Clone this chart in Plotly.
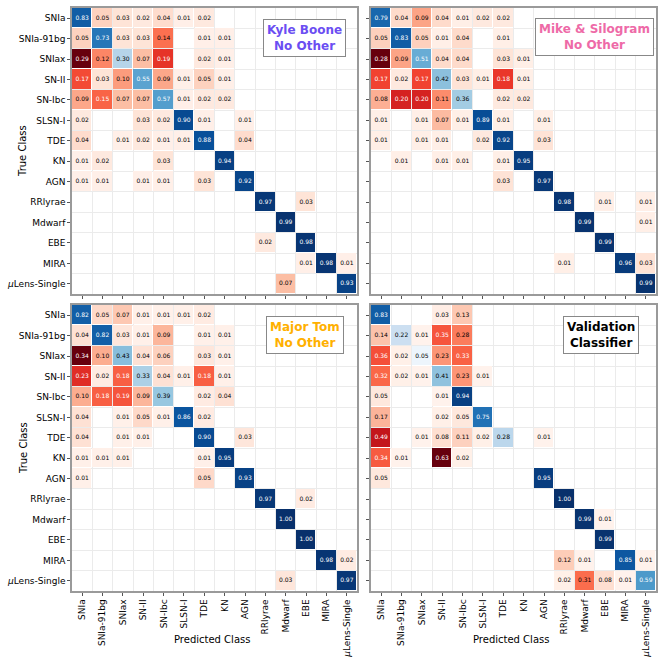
import plotly.graph_objects as go

# classes, same order on both axes
classes = ["SNIa", "SNIa-91bg", "SNIax", "SN-II", "SN-Ibc", "SLSN-I", "TDE", "KN",
           "AGN", "RRlyrae", "Mdwarf", "EBE", "MIRA", "<i>μ</i>Lens-Single"]

_ = None
# rows = true class, columns = predicted class
kyle_boone = [
    [0.83, 0.05, 0.03, 0.02, 0.04, 0.01, 0.02, _, _, _, _, _, _, _],
    [0.05, 0.73, 0.03, 0.03, 0.14, _, 0.01, 0.01, _, _, _, _, _, _],
    [0.29, 0.12, 0.30, 0.07, 0.19, _, 0.02, 0.01, _, _, _, _, _, _],
    [0.17, 0.03, 0.10, 0.55, 0.09, 0.01, 0.05, 0.01, _, _, _, _, _, _],
    [0.09, 0.15, 0.07, 0.07, 0.57, 0.01, 0.02, 0.02, _, _, _, _, _, _],
    [0.02, _, _, 0.03, 0.02, 0.90, 0.01, _, 0.01, _, _, _, _, _],
    [0.04, _, 0.01, 0.02, 0.01, 0.01, 0.88, _, 0.04, _, _, _, _, _],
    [0.01, 0.02, _, _, 0.03, _, _, 0.94, _, _, _, _, _, _],
    [0.01, 0.01, _, 0.01, 0.01, _, 0.03, _, 0.92, _, _, _, _, _],
    [_, _, _, _, _, _, _, _, _, 0.97, _, 0.03, _, _],
    [_, _, _, _, _, _, _, _, _, _, 0.99, _, _, _],
    [_, _, _, _, _, _, _, _, _, 0.02, _, 0.98, _, _],
    [_, _, _, _, _, _, _, _, _, _, _, 0.01, 0.98, 0.01],
    [_, _, _, _, _, _, _, _, _, _, 0.07, _, _, 0.93],
]

mike_silogram = [
    [0.79, 0.04, 0.09, 0.04, 0.01, 0.02, 0.02, _, _, _, _, _, _, _],
    [0.05, 0.83, 0.05, 0.01, 0.04, _, 0.01, _, _, _, _, _, _, _],
    [0.28, 0.09, 0.51, 0.04, 0.04, _, 0.03, 0.01, _, _, _, _, _, _],
    [0.17, 0.02, 0.17, 0.42, 0.03, 0.01, 0.18, 0.01, _, _, _, _, _, _],
    [0.08, 0.20, 0.20, 0.11, 0.36, _, 0.02, 0.02, _, _, _, _, _, _],
    [0.01, _, 0.01, 0.07, 0.01, 0.89, 0.01, _, 0.01, _, _, _, _, _],
    [0.01, _, 0.01, 0.01, _, 0.02, 0.92, _, 0.03, _, _, _, _, _],
    [_, 0.01, _, 0.01, 0.01, _, 0.01, 0.95, _, _, _, _, _, _],
    [_, _, _, _, _, _, 0.03, _, 0.97, _, _, _, _, _],
    [_, _, _, _, _, _, _, _, _, 0.98, _, 0.01, _, 0.01],
    [_, _, _, _, _, _, _, _, _, _, 0.99, _, _, 0.01],
    [_, _, _, _, _, _, _, _, _, _, _, 0.99, _, _],
    [_, _, _, _, _, _, _, _, _, 0.01, _, _, 0.96, 0.03],
    [_, _, _, _, _, _, _, _, _, _, _, _, _, 0.99],
]

major_tom = [
    [0.82, 0.05, 0.07, 0.01, 0.01, 0.01, 0.02, _, _, _, _, _, _, _],
    [0.04, 0.82, 0.03, 0.01, 0.09, _, 0.01, 0.01, _, _, _, _, _, _],
    [0.34, 0.10, 0.43, 0.04, 0.06, _, 0.03, 0.01, _, _, _, _, _, _],
    [0.23, 0.02, 0.18, 0.33, 0.04, 0.01, 0.18, 0.01, _, _, _, _, _, _],
    [0.10, 0.18, 0.19, 0.09, 0.39, _, 0.02, 0.04, _, _, _, _, _, _],
    [0.04, _, 0.01, 0.05, 0.01, 0.86, 0.02, _, _, _, _, _, _, _],
    [0.04, _, 0.01, 0.01, _, _, 0.90, _, 0.03, _, _, _, _, _],
    [0.01, 0.01, 0.01, _, _, _, 0.01, 0.95, _, _, _, _, _, _],
    [0.01, _, _, _, _, _, 0.05, _, 0.93, _, _, _, _, _],
    [_, _, _, _, _, _, _, _, _, 0.97, _, 0.02, _, _],
    [_, _, _, _, _, _, _, _, _, _, 1.00, _, _, _],
    [_, _, _, _, _, _, _, _, _, _, _, 1.00, _, _],
    [_, _, _, _, _, _, _, _, _, _, _, _, 0.98, 0.02],
    [_, _, _, _, _, _, _, _, _, _, 0.03, _, _, 0.97],
]

validation = [
    [0.83, _, _, 0.03, 0.13, _, _, _, _, _, _, _, _, _],
    [0.14, 0.22, 0.01, 0.35, 0.28, _, _, _, _, _, _, _, _, _],
    [0.36, 0.02, 0.05, 0.23, 0.33, _, _, _, _, _, _, _, _, _],
    [0.32, 0.02, 0.01, 0.41, 0.23, 0.01, _, _, _, _, _, _, _, _],
    [0.05, _, _, 0.01, 0.94, _, _, _, _, _, _, _, _, _],
    [0.17, _, _, 0.02, 0.05, 0.75, _, _, _, _, _, _, _, _],
    [0.49, _, 0.01, 0.08, 0.11, 0.02, 0.28, _, 0.01, _, _, _, _, _],
    [0.34, 0.01, _, 0.63, 0.02, _, _, _, _, _, _, _, _, _],
    [0.05, _, _, _, _, _, _, _, 0.95, _, _, _, _, _],
    [_, _, _, _, _, _, _, _, _, 1.00, _, _, _, _],
    [_, _, _, _, _, _, _, _, _, _, 0.99, 0.01, _, _],
    [_, _, _, _, _, _, _, _, _, _, _, 0.99, _, _],
    [_, _, _, _, _, _, _, _, _, 0.12, 0.01, _, 0.85, 0.01],
    [_, _, _, _, _, _, _, _, _, 0.02, 0.31, 0.08, 0.01, 0.59],
]

panels = [
    (kyle_boone, "Kyle Boone<br>No Other", "#6b4ef2"),
    (mike_silogram, "Mike & Silogram<br>No Other", "#ee6aa7"),
    (major_tom, "Major Tom<br>No Other", "#ffb000"),
    (validation, "Validation<br>Classifier", "black"),
]

W, H = 665, 663
FONT = "DejaVu Sans"
xdoms = [[72 / W, 357 / W], [371 / W, 656 / W]]
ydoms = [[1 - 294 / H, 1 - 8 / H], [1 - 591 / H, 1 - 305 / H]]
label_pos = [(304.5, 37.5), (594, 37), (305, 334.5), (601, 334.5)]

fig = go.Figure()
n = len(classes)

for k, (mat, label, color) in enumerate(panels):
    row, col = divmod(k, 2)
    xa = "x" if k == 0 else f"x{k + 1}"
    ya = "y" if k == 0 else f"y{k + 1}"

    diag = [[mat[i][j] if i == j else None for j in range(n)] for i in range(n)]
    off = [[mat[i][j] if i != j else None for j in range(n)] for i in range(n)]
    off_max = max(v for r in off for v in r if v is not None)

    fig.add_trace(go.Heatmap(z=diag, colorscale="Blues", zmin=0, zmax=1,
                             showscale=False, xgap=1, ygap=1,
                             xaxis=xa, yaxis=ya, hoverinfo="skip"))
    fig.add_trace(go.Heatmap(z=off, colorscale="Reds", zmin=0, zmax=off_max,
                             showscale=False, xgap=1, ygap=1,
                             xaxis=xa, yaxis=ya, hoverinfo="skip"))

    tx, ty, tt, tc = [], [], [], []
    for i in range(n):
        for j in range(n):
            v = mat[i][j]
            if v is None:
                continue
            vmax = 1 if i == j else off_max
            tx.append(j)
            ty.append(i)
            tt.append(f"{v:.2f}")
            tc.append("white" if v > 0.5 * vmax else "black")
    fig.add_trace(go.Scatter(x=tx, y=ty, text=tt, mode="text",
                             textfont=dict(family=FONT, size=6, color=tc),
                             xaxis=xa, yaxis=ya, hoverinfo="skip", showlegend=False))

    common = dict(showline=True, mirror=True, linecolor="#9a9a9a", linewidth=1.5,
                  ticks="outside", ticklen=3, tickcolor="#555", tickwidth=1,
                  tickvals=list(range(n)), ticktext=classes,
                  tickfont=dict(family=FONT, size=9, color="black"),
                  showgrid=False, zeroline=False, automargin=False, fixedrange=True,
                  minor=dict(tick0=0.5, dtick=1, showgrid=True, gridcolor="#ebebeb",
                             gridwidth=1, ticks=""))
    fig.layout[("xaxis" if k == 0 else f"xaxis{k + 1}")] = dict(
        common, domain=xdoms[col], range=[-0.5, n - 0.5], anchor=ya,
        showticklabels=(row == 1), tickangle=-90)
    fig.layout[("yaxis" if k == 0 else f"yaxis{k + 1}")] = dict(
        common, domain=ydoms[row], range=[n - 0.5, -0.5], anchor=xa,
        showticklabels=(col == 0))

    lx, ly = label_pos[k]
    fig.add_annotation(x=lx / W, y=1 - ly / H, xref="paper", yref="paper",
                       text=f"<b>{label}</b>", showarrow=False,
                       font=dict(family=FONT, size=12, color=color),
                       bgcolor="white", bordercolor="#888", borderwidth=1, borderpad=3,
                       xanchor="center", yanchor="middle")

for yc in (151, 448):
    fig.add_annotation(x=23 / W, y=1 - yc / H, xref="paper", yref="paper",
                       text="True Class", textangle=-90, showarrow=False,
                       xanchor="center", yanchor="middle",
                       font=dict(family=FONT, size=10, color="black"))
for xc in (212, 511):
    fig.add_annotation(x=xc / W, y=1 - 639 / H, xref="paper", yref="paper",
                       text="Predicted Class", showarrow=False,
                       xanchor="center", yanchor="middle",
                       font=dict(family=FONT, size=10, color="black"))

fig.update_layout(width=W, height=H, margin=dict(l=0, r=0, t=0, b=0),
                  paper_bgcolor="white", plot_bgcolor="white", showlegend=False)

# drop the default page margin so the figure sits at the window's corner
fig.write_html("out.html", config={"displayModeBar": False},
               post_script="document.body.style.margin='0px';")
